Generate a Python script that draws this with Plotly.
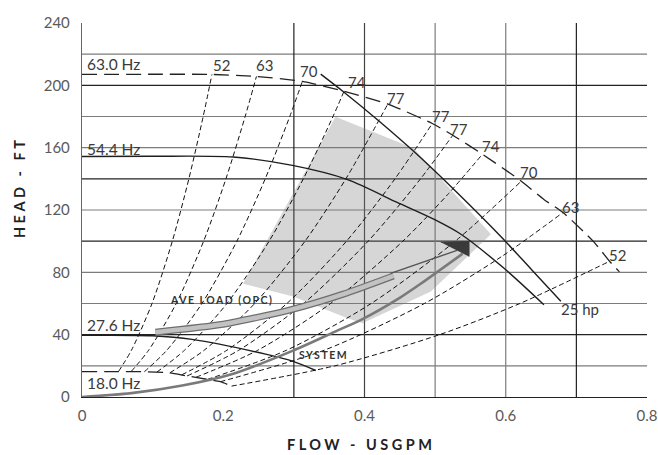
import plotly.graph_objects as go

# ---------------- data (flow USGPM, head FT) ----------------
hz63_flow = [0.0, 0.10, 0.184, 0.247, 0.312, 0.371, 0.433, 0.496, 0.525, 0.567, 0.622, 0.654, 0.681, 0.725, 0.747, 0.761]
hz63_head = [207.0, 207.1, 207.0, 205.7, 202.5, 196.2, 188.0, 175.5, 168.0, 155.8, 138.5, 126.8, 118.4, 99.4, 87.1, 80.3]

hz54_flow = [0.0, 0.10, 0.214, 0.298, 0.376, 0.447, 0.498, 0.536, 0.598, 0.654]
hz54_head = [154.3, 154.5, 154.0, 148.6, 139.5, 124.7, 114.1, 104.6, 82.4, 59.2]

hz27_flow = [0.0, 0.10, 0.156, 0.26, 0.298, 0.331]
hz27_head = [39.6, 39.3, 37.0, 27.5, 23.0, 17.0]

hz18_flow = [0.0, 0.0516, 0.0883, 0.1243, 0.1488, 0.1777, 0.1959, 0.2118]
hz18_head = [16.3, 16.3, 16.2, 15.5, 13.5, 11.3, 9.8, 7.0]

hp25_flow = [0.338, 0.371, 0.420, 0.470, 0.527, 0.593, 0.636, 0.678]
hp25_head = [207.2, 195.6, 177.3, 157.5, 133.0, 103.0, 82.0, 61.5]

# iso-efficiency lines (%)
eff_labels = ["52", "63", "70", "74", "77", "77", "77", "74", "70", "63", "52"]
eff_flow = [
    [0.0516, 0.0700, 0.0991, 0.1279, 0.1513, 0.1716, 0.184],
    [0.0695, 0.0943, 0.1334, 0.1722, 0.2038, 0.2310, 0.247],
    [0.0883, 0.1201, 0.1698, 0.2193, 0.2594, 0.2942, 0.312],
    [0.1060, 0.1451, 0.2052, 0.2649, 0.3134, 0.3554, 0.371],
    [0.1243, 0.1729, 0.2446, 0.3158, 0.3736, 0.433],
    [0.1411, 0.2051, 0.2901, 0.3745, 0.4431, 0.496],
    [0.1488, 0.2219, 0.3138, 0.4051, 0.4793, 0.525],
    [0.1612, 0.2488, 0.3519, 0.4543, 0.5179, 0.567],
    [0.1777, 0.2895, 0.4094, 0.5285, 0.622],
    [0.1959, 0.3428, 0.4848, 0.5937, 0.681],
    [0.2118, 0.3579, 0.5062, 0.6200, 0.747],
]
eff_head = [
    [16.3, 30, 60, 100, 140, 180, 207.0],
    [16.3, 30, 60, 100, 140, 180, 205.7],
    [16.2, 30, 60, 100, 140, 180, 202.5],
    [16.0, 30, 60, 100, 140, 180, 196.2],
    [15.5, 30, 60, 100, 140, 188.0],
    [14.2, 30, 60, 100, 140, 175.5],
    [13.5, 30, 60, 100, 140, 168.0],
    [12.6, 30, 60, 100, 130, 155.8],
    [11.3, 30, 60, 100, 138.5],
    [9.8, 30, 60, 90, 118.4],
    [7.0, 20, 40, 60, 87.1],
]
eff_label_x = [0.197, 0.259, 0.321, 0.389, 0.444, 0.508, 0.534, 0.579, 0.633, 0.692, 0.758]
eff_label_y = [212.8, 212.8, 209.0, 202.0, 192.0, 180.2, 171.7, 161.2, 144.4, 122.2, 91.4]

# system curve and average load band
sys_flow = [0.0, 0.07, 0.142, 0.213, 0.298, 0.36, 0.395, 0.451, 0.479, 0.539]
sys_head = [0.0, 2.5, 7.4, 14.8, 29.6, 42.3, 49.5, 64.0, 72.5, 92.0]
arrow_flow = [0.508, 0.548, 0.548]
arrow_head = [99.3, 99.8, 90.1]

ave_flow = [0.104, 0.200, 0.295, 0.370, 0.441]
ave_head = [41.6, 46.7, 55.9, 66.0, 77.7]
ave_tail_flow = [0.437, 0.531]
ave_tail_head = [79.3, 94.1]

# preferred operating region (shaded)
shade_flow = [0.359, 0.4695, 0.5035, 0.539, 0.579, 0.494, 0.397, 0.376, 0.299, 0.228]
shade_head = [179.9, 159.6, 142.5, 124.7, 104.4, 67.7, 47.4, 50.5, 64.5, 72.7]

# curve labels
hz_labels = ["63.0 Hz", "54.4 Hz", "27.6 Hz", "18.0 Hz"]
hz_label_y = [213.5, 159.0, 46.0, 9.3]

# grid / ticks
grid_y_dark = [40, 100, 140, 200]
grid_y_light = [20, 60, 80, 120, 160, 180, 220]
grid_x_dark = [0.3, 0.7]
grid_x_mid = [0.4]
grid_x_light = [0.5, 0.6]
x_ticks = [0, 0.2, 0.4, 0.6, 0.8]
x_tick_text = ["0", "0.2", "0.4", "0.6", "0.8"]
y_ticks = [0, 40, 80, 120, 160, 200, 240]

FONT = "Lato"
fig = go.Figure()

fig.add_trace(go.Scatter(x=shade_flow, y=shade_head, fill="toself", mode="lines",
                         fillcolor="rgba(120,120,120,0.30)", line=dict(width=0),
                         hoverinfo="skip", showlegend=False))

for fx, fy in zip(eff_flow, eff_head):
    fig.add_trace(go.Scatter(x=fx, y=fy, mode="lines",
                             line=dict(color="#111111", width=1, dash="5px,3px", shape="spline", smoothing=0.8),
                             hoverinfo="skip", showlegend=False))

for fx, fy, dash in [(hz63_flow, hz63_head, "15px,7px"), (hz18_flow, hz18_head, "15px,7px")]:
    fig.add_trace(go.Scatter(x=fx, y=fy, mode="lines",
                             line=dict(color="#222222", width=1.3, dash=dash, shape="spline", smoothing=0.6),
                             hoverinfo="skip", showlegend=False))

for fx, fy in [(hz54_flow, hz54_head), (hz27_flow, hz27_head), (hp25_flow, hp25_head)]:
    fig.add_trace(go.Scatter(x=fx, y=fy, mode="lines",
                             line=dict(color="#1e1e1e", width=1.4, shape="spline", smoothing=0.8),
                             hoverinfo="skip", showlegend=False))

# average load band
fig.add_trace(go.Scatter(x=ave_flow, y=ave_head, mode="lines",
                         line=dict(color="#6e6e6e", width=7, shape="spline", smoothing=0.6),
                         hoverinfo="skip", showlegend=False))
fig.add_trace(go.Scatter(x=ave_flow, y=ave_head, mode="lines",
                         line=dict(color="#c2c2c2", width=4.5, shape="spline", smoothing=0.6),
                         hoverinfo="skip", showlegend=False))
fig.add_trace(go.Scatter(x=ave_tail_flow, y=ave_tail_head, mode="lines",
                         line=dict(color="#555555", width=1.4),
                         hoverinfo="skip", showlegend=False))

# system curve
fig.add_trace(go.Scatter(x=sys_flow, y=sys_head, mode="lines",
                         line=dict(color="#7a7a7a", width=2.6, shape="spline", smoothing=0.8),
                         hoverinfo="skip", showlegend=False))
fig.add_trace(go.Scatter(x=arrow_flow, y=arrow_head, fill="toself", mode="lines",
                         fillcolor="#3a3a3a", line=dict(color="#3a3a3a", width=1),
                         hoverinfo="skip", showlegend=False))

# gridlines
def hline(y, color):
    fig.add_shape(type="line", xref="x", yref="y", x0=0, x1=0.8, y0=y, y1=y,
                  line=dict(color=color, width=1.2), layer="below")

def vline(x, color):
    fig.add_shape(type="line", xref="x", yref="y", x0=x, x1=x, y0=0, y1=240,
                  line=dict(color=color, width=1.2), layer="below")

for y in grid_y_dark:
    hline(y, "#222222")
for y in grid_y_light:
    hline(y, "#7c7c7c")
for x in grid_x_dark:
    vline(x, "#222222")
for x in grid_x_mid:
    vline(x, "#444444")
for x in grid_x_light:
    vline(x, "#7c7c7c")

PLOT_W, PLOT_H = 565, 375
PLOT_L, PLOT_B = 82, 397

ann = []
for t, y in zip(hz_labels, hz_label_y):
    ann.append(dict(x=0.004, y=y, text=t, xanchor="left", yanchor="middle", showarrow=False,
                    font=dict(family=FONT, size=15.5, color="#3a3a3a")))
for t, x, y in zip(eff_labels, eff_label_x, eff_label_y):
    ann.append(dict(x=x, y=y, text=t, xanchor="center", yanchor="middle", showarrow=False,
                    font=dict(family=FONT, size=15, color="#3a3a3a")))
ann.append(dict(x=0.705, y=56.2, text="25 hp", xanchor="center", yanchor="middle", showarrow=False,
                font=dict(family=FONT, size=15, color="#3a3a3a")))
ann.append(dict(x=0.197, y=62.4, text='<span style="letter-spacing:1.5px"><b>AVE LOAD (OPC)</b></span>',
                xanchor="center", yanchor="middle",
                showarrow=False, font=dict(family=FONT, size=10.5, color="#333333")))
ann.append(dict(x=0.3415, y=26.8, text='<span style="letter-spacing:1.5px"><b>SYSTEM</b></span>',
                xanchor="center", yanchor="middle",
                showarrow=False, font=dict(family=FONT, size=10.5, color="#333333")))
# axis titles
ann.append(dict(xref="paper", yref="paper", x=(360.8 - PLOT_L) / PLOT_W, y=-(445 - PLOT_B) / PLOT_H,
                text='<span style="letter-spacing:3.5px"><b>FLOW - USGPM</b></span>',
                xanchor="center", yanchor="middle", showarrow=False,
                font=dict(family=FONT, size=14.5, color="#222222")))
ann.append(dict(xref="paper", yref="paper", x=-(PLOT_L - 19) / PLOT_W, y=(PLOT_B - 187.5) / PLOT_H,
                text='<span style="letter-spacing:3.5px"><b>HEAD - FT</b></span>', textangle=-90,
                xanchor="center", yanchor="middle", showarrow=False,
                font=dict(family=FONT, size=14.5, color="#222222")))

fig.update_layout(
    width=658, height=455,
    margin=dict(l=82, r=11, t=23, b=58, autoexpand=False),
    paper_bgcolor="white", plot_bgcolor="white",
    showlegend=False,
    annotations=ann,
    xaxis=dict(range=[0, 0.8], tickvals=x_ticks, ticktext=x_tick_text, showgrid=False, zeroline=False,
               showline=True, linecolor="#222222", linewidth=1.2, ticks="", ticklabelstandoff=5,
               ticklabeloverflow="allow",
               tickfont=dict(family=FONT, size=15, color="#5a5a5a"), fixedrange=True),
    yaxis=dict(range=[0, 240], tickvals=y_ticks, showgrid=False, zeroline=False,
               showline=True, linecolor="#666666", linewidth=1.2, ticks="", ticklabelstandoff=8,
               ticklabeloverflow="allow",
               tickfont=dict(family=FONT, size=15, color="#5a5a5a"), fixedrange=True),
)

# remove the default page margin so the 658x455 figure fills the window exactly
fig.write_html("out.html",
               config={"displayModeBar": False, "staticPlot": True},
               post_script="document.body.style.margin='0';document.body.style.overflow='hidden';")
